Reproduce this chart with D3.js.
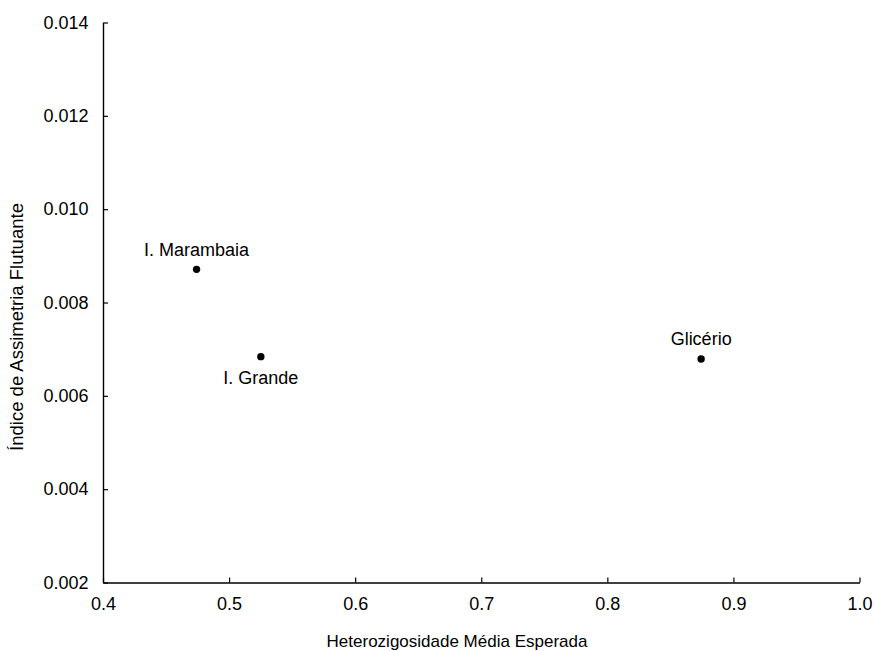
<!DOCTYPE html>
<html>
<head>
<meta charset="utf-8">
<script src="https://cdn.jsdelivr.net/npm/d3@7"></script>
<style>
  html, body { margin: 0; padding: 0; background: #fff; }
  svg { display: block; font-family: "Liberation Sans", Arial, sans-serif; }
</style>
</head>
<body>
<svg id="chart" width="874" height="651"></svg>
<script>
// Populations: expected mean heterozygosity vs. fluctuating asymmetry index
const populations = ["I. Marambaia", "I. Grande", "Glicério"];
const heterozygosity = [0.4742, 0.5252, 0.8744];
const asymmetryIndex = [0.00871, 0.00684, 0.00679];
// Label placement relative to each point: "above" or "below"
const labelSide = ["above", "below", "above"];

const xTicks = [0.4, 0.5, 0.6, 0.7, 0.8, 0.9, 1.0];
const yTicks = [0.002, 0.004, 0.006, 0.008, 0.010, 0.012, 0.014];

const xTitle = "Heterozigosidade Média Esperada";
const yTitle = "Índice de Assimetria Flutuante";

const svg = d3.select("#chart");
const plot = { left: 103, right: 859.5, top: 22.5, bottom: 582.5 };
const labelSize = 18;
const titleSize = 17;

const x = d3.scaleLinear().domain([0.4, 1.0]).range([plot.left, plot.right]);
const y = d3.scaleLinear().domain([0.002, 0.014]).range([plot.bottom, plot.top]);

// X axis (ticks point inward, upward)
const xAxis = svg.append("g")
  .attr("transform", `translate(0,${plot.bottom})`)
  .call(d3.axisBottom(x).tickValues(xTicks).tickSize(-5).tickSizeOuter(0)
    .tickFormat(d3.format(".1f")));
xAxis.select(".domain").attr("stroke", "#000").attr("stroke-width", 1.4);
xAxis.selectAll(".tick line").attr("stroke", "#000").attr("stroke-width", 1.2);
xAxis.selectAll(".tick text")
  .attr("y", 15).attr("dy", "0.71em")
  .attr("font-size", labelSize).attr("fill", "#000")
  .attr("font-family", "Liberation Sans, Arial, sans-serif");

// Y axis (ticks point inward, rightward)
const yAxis = svg.append("g")
  .attr("transform", `translate(${plot.left},0)`)
  .call(d3.axisLeft(y).tickValues(yTicks).tickSize(-5).tickSizeOuter(0)
    .tickFormat(d3.format(".3f")));
yAxis.select(".domain").attr("stroke", "#000").attr("stroke-width", 1.4);
yAxis.selectAll(".tick line").attr("stroke", "#000").attr("stroke-width", 1.2);
yAxis.selectAll(".tick text")
  .attr("x", -14.5)
  .attr("font-size", labelSize).attr("fill", "#000")
  .attr("font-family", "Liberation Sans, Arial, sans-serif");

// Axis titles
svg.append("text")
  .attr("x", 457).attr("y", 646.5)
  .attr("text-anchor", "middle")
  .attr("font-size", titleSize).attr("fill", "#000")
  .text(xTitle);

svg.append("text")
  .attr("transform", `translate(23,327) rotate(-90)`)
  .attr("text-anchor", "middle")
  .attr("font-size", 18.5).attr("fill", "#000")
  .text(yTitle);

// Points
const data = populations.map((name, i) => ({
  name, hx: heterozygosity[i], fa: asymmetryIndex[i], side: labelSide[i]
}));

svg.append("g").selectAll("circle")
  .data(data).enter().append("circle")
  .attr("cx", d => x(d.hx))
  .attr("cy", d => y(d.fa))
  .attr("r", 3.7)
  .attr("fill", "#000");

svg.append("g").selectAll("text")
  .data(data).enter().append("text")
  .attr("x", d => x(d.hx))
  .attr("y", d => y(d.fa) + (d.side === "above" ? -13.5 : 27.5))
  .attr("text-anchor", "middle")
  .attr("font-size", labelSize).attr("fill", "#000")
  .text(d => d.name);
</script>
</body>
</html>
